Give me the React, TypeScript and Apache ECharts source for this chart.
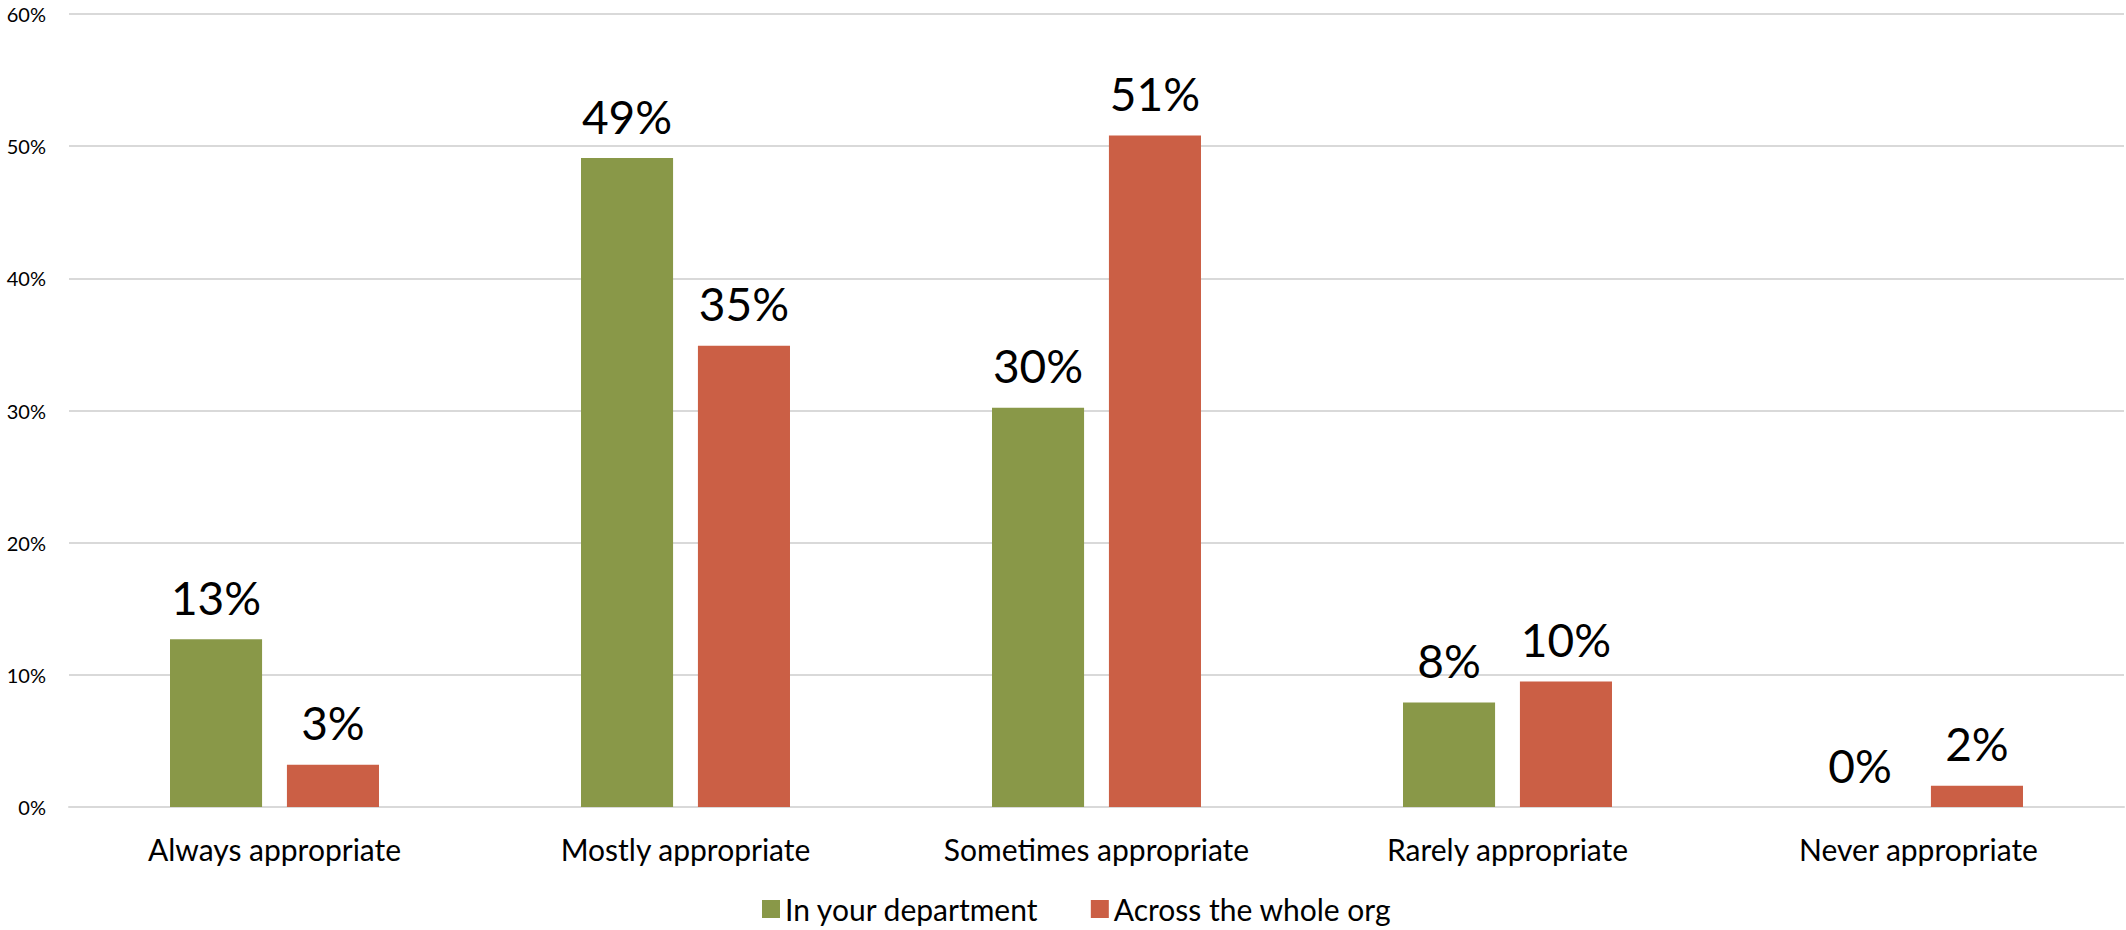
import React, { useEffect, useRef } from "react";
import * as echarts from "echarts";

const categories = [
  "Always appropriate",
  "Mostly appropriate",
  "Sometimes appropriate",
  "Rarely appropriate",
  "Never appropriate",
];
const departmentValues = [12.7, 49.1, 30.2, 7.9, 0];
const departmentLabels = ["13%", "49%", "30%", "8%", "0%"];
const orgValues = [3.2, 34.9, 50.8, 9.5, 1.6];
const orgLabels = ["3%", "35%", "51%", "10%", "2%"];
const seriesNames = ["In your department", "Across the whole org"];

const FONT = "Lato, 'Noto Sans', sans-serif";

export default function App() {
  const ref = useRef<HTMLDivElement>(null);
  useEffect(() => {
    document.body.style.margin = "0";
    const chart = echarts.init(ref.current!, null, { renderer: "svg" });
    const labelCfg = (labels: string[]) => ({
      show: true,
      position: "top",
      distance: 19,
      fontSize: 46,
      fontFamily: FONT,
      color: "#000",
      formatter: (p: any) => labels[p.dataIndex],
    });
    chart.setOption({
      animation: false,
      backgroundColor: "#fff",
      textStyle: { fontFamily: FONT },
      grid: { left: 69, right: 2, top: 14, bottom: 123, containLabel: false },
      legend: {
        top: 894,
        left: 762,
        padding: 0,
        itemWidth: 18,
        itemHeight: 18,
        itemGap: 52,
        icon: "rect",
        textStyle: { fontSize: 30, color: "#000", fontFamily: FONT },
        data: seriesNames,
      },
      xAxis: {
        type: "category",
        data: categories,
        axisLine: { show: true, lineStyle: { color: "#d9d9d9", width: 2 } },
        axisTick: { show: false },
        axisLabel: { fontSize: 30, color: "#000", margin: 27, fontFamily: FONT },
      },
      yAxis: {
        type: "value",
        min: 0,
        max: 60,
        interval: 10,
        axisLine: { show: false },
        axisTick: { show: false },
        splitLine: { lineStyle: { color: "#d9d9d9", width: 2 } },
        axisLabel: {
          fontSize: 20,
          color: "#000",
          margin: 23,
          fontFamily: FONT,
          formatter: (v: number) => `${v}%`,
        },
      },
      series: [
        {
          name: seriesNames[0],
          type: "bar",
          data: departmentValues,
          barWidth: "22.4%",
          barGap: "27%",
          itemStyle: { color: "#899848" },
          label: labelCfg(departmentLabels),
        },
        {
          name: seriesNames[1],
          type: "bar",
          data: orgValues,
          barWidth: "22.4%",
          barGap: "27%",
          itemStyle: { color: "#cb5f45" },
          label: labelCfg(orgLabels),
        },
      ],
    });
    return () => chart.dispose();
  }, []);
  return <div ref={ref} style={{ width: 2126, height: 930 }} />;
}
